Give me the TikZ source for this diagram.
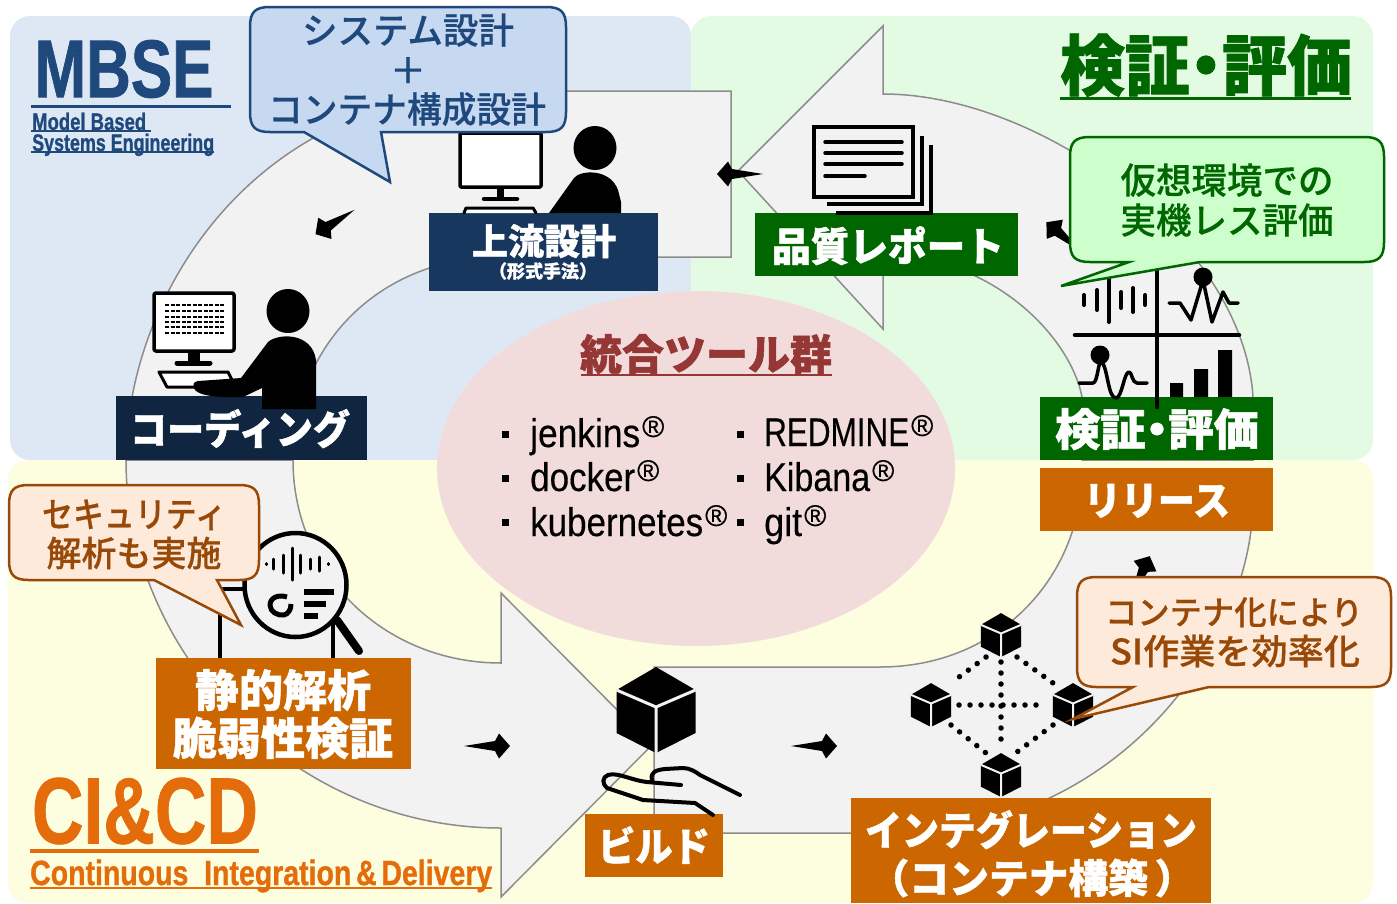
\documentclass[tikz,border=0pt]{standalone}
\usepackage{fontspec}
\usetikzlibrary{shapes.geometric}
\newfontfamily\jpn[BoldFont={Noto Sans CJK JP Black}, FakeBold=0.4, BoldFeatures={FakeBold=1.2}]{Noto Sans CJK JP Medium}
\newfontfamily\lat[FakeBold=0.3, BoldFeatures={FakeBold=1}]{Liberation Sans}
\definecolor{bgblue}{HTML}{DEE8F5}
\definecolor{bggreen}{HTML}{E3FBE3}
\definecolor{bgyellow}{HTML}{FDFDE0}
\definecolor{ringgray}{HTML}{F2F2F2}
\definecolor{ringline}{HTML}{8C8C8C}
\definecolor{toolpink}{HTML}{F2DCDB}
\definecolor{toolred}{HTML}{953735}
\definecolor{navy}{HTML}{17375E}
\definecolor{darknavy}{HTML}{10253F}
\definecolor{mbseblue}{HTML}{1F497D}
\definecolor{callblue}{HTML}{C6D9F1}
\definecolor{vgreen}{HTML}{006600}
\definecolor{callgreen}{HTML}{CCFFCC}
\definecolor{ciorange}{HTML}{CC6600}
\definecolor{titleorange}{HTML}{E46C0A}
\definecolor{callorange}{HTML}{FDEADA}
\definecolor{brownline}{HTML}{984807}
\newcommand{\tw}[2]{\resizebox{#1pt}{\height}{#2}}
\newcommand{\pt}[1]{\fontsize{#1}{#1}\selectfont}
\newcommand{\reg}{\hspace{2pt}\raisebox{10pt}{\pt{30}®}}
\newcommand{\callpath}[5]{({#1+20},#2) -- ({#3-20},#2) .. controls ({#3-5},#2) and (#3,{#2+5}) .. (#3,{#2+20}) -- (#3,{#4-20}) .. controls (#3,{#4-5}) and ({#3-5},#4) .. ({#3-20},#4) #5 -- ({#1+20},#4) .. controls ({#1+5},#4) and (#1,{#4-5}) .. (#1,{#4-20}) -- (#1,{#2+20}) .. controls (#1,{#2+5}) and ({#1+5},#2) .. ({#1+20},#2) -- cycle}
\tikzset{
    band/.style = {rounded corners=20pt},
    ring/.style = {fill=ringgray, draw=ringline, line width=1.5pt, line join=miter},
    tagbox/.style = {inner sep=0pt, outer sep=0pt},
    lbl/.style = {inner sep=0pt, execute at begin node={\rule[-.12em]{0pt}{1em}}, font=\jpn},
    taglbl/.style = {lbl, text=white, font=\jpn\bfseries},
    tool/.style = {inner sep=0pt, anchor=base west, font=\lat\pt{40}},
    icon/.style = {draw=black, line width=3.5pt, line join=round, line cap=round},
    dots/.style = {draw=black, line width=5.5pt, line cap=round, dash pattern=on 0pt off 11pt},
    cubegap/.style = {line width=3pt},
    dart/.pic = {\fill (-23,0) -- (8,-5) -- (12,-12.5) -- (23,0) -- (12,12.5) -- (8,5) -- cycle;},
    cube/.pic = {
        \fill (0,-43) -- (39.5,-20) -- (39.5,23) -- (0,43) -- (-39.5,23) -- (-39.5,-20) -- cycle;
        \draw[ringgray, cubegap] (-39.5,-20) -- (0,-3) -- (39.5,-20) (0,-3) -- (0,43);
    }
}
\begin{document}
\begin{tikzpicture}[x = 1pt, y = -1pt]
    \useasboundingbox (0,0) rectangle (1397,903);
    \fill[white] (0,0) rectangle (1397,903);
    \fill[bgblue, band] (10,16) rectangle (691,460);
    \fill[bggreen, band] (691,16) rectangle (1373,460);
    \fill[bgyellow, band] (8,460) rectangle (1373,903);
    \node[ellipse, fill=toolpink, minimum width=518pt, minimum height=355pt, inner sep=0pt] (tools) at (696,468.5) {};

    \draw[ring] (731,91) -- (500,91) .. controls (250,91) and (126,300) .. (126,460) -- (293,460) .. controls (293,345) and (380,257) .. (500,257) -- (731,257) -- cycle;
    \draw[ring] (883,26) -- (738,171) -- (883,329) -- (883,255) .. controls (990,255) and (1070,335) .. (1082,397) -- (1082,460) -- (1253,460) -- (1253,397) .. controls (1243,240) and (1040,94) .. (883,94) -- cycle;
    \draw[ring] (654,667) -- (880,667) .. controls (1000,667) and (1082,575) .. (1082,470) -- (1253,500) .. controls (1253,640) and (1120,833) .. (890,833) -- (654,833) -- cycle;
    \draw[ring] (126,460) .. controls (126,650) and (290,828) .. (501,828) -- (501,897) -- (652,745) -- (501,593) -- (501,663) .. controls (385,663) and (293,575) .. (293,460) -- cycle;

    \pic at (487,746) {dart};
    \pic at (814,746) {dart};
    \pic[rotate=65] at (1140,577) {dart};
    \pic[rotate=140] at (1064,237) {dart};
    \pic[rotate=180] at (740,174) {dart};
    \pic[rotate=212] at (335,222) {dart};

    \node[tagbox, fill=navy, minimum width=229pt, minimum height=78pt] (upper) at (543.5,252) {};
    \node[tagbox, fill=darknavy, minimum width=251pt, minimum height=64pt] (coding) at (241.5,428) {};
    \node[tagbox, fill=vgreen, minimum width=263pt, minimum height=63pt] (report) at (886.5,244.5) {};
    \node[tagbox, fill=vgreen, minimum width=233pt, minimum height=63pt] (verify) at (1156.5,428.5) {};
    \node[tagbox, fill=ciorange, minimum width=233pt, minimum height=63pt] (release) at (1156.5,499.5) {};
    \node[tagbox, fill=ciorange, minimum width=255pt, minimum height=111pt] (static) at (283.5,713.5) {};
    \node[tagbox, fill=ciorange, minimum width=138pt, minimum height=63pt] (build) at (654,845.5) {};
    \node[tagbox, fill=ciorange, minimum width=360pt, minimum height=105pt] (integ) at (1031,850.5) {};

    \draw[icon, fill=white, rounded corners=1pt] (460,133) rectangle (541,187);
    \fill (497,187) rectangle (504,198);
    \draw[icon, line width=4.5pt] (484,199) -- (517,199);
    \draw[icon, line width=3pt, fill=white] (464,213) -- (466,208) -- (533,208) -- (536,213);
    \fill (595,148) ellipse [x radius=21.5, y radius=22];
    \fill (549,213) -- (574,178) .. controls (580,170) and (610,168) .. (618,190) -- (621,202) -- (621,213) -- cycle;

    \draw[icon, fill=white, rounded corners=2pt] (154,293) rectangle (234,351);
    \foreach \rowy in {305,311,317,322,327,333}
        \draw[line width=2pt, dash pattern=on 4pt off 1.5pt] (165,\rowy) -- (224,\rowy);
    \fill (188,351) rectangle (200,362);
    \draw[icon, line width=5pt] (177,363) -- (210,363);
    \draw[icon, line width=3pt, fill=white] (159,372) -- (228,372) -- (233,382) -- (196,387) -- (167,387) -- cycle;
    \fill (288,311) ellipse [x radius=21.5, y radius=22];
    \fill (262,409) -- (262,388) -- (243,397) .. controls (220,398) and (200,396) .. (195,390) .. controls (192,385) and (193,382) .. (198,381) -- (241,378) -- (268,342) .. controls (278,333) and (312,332) .. (316,360) -- (316,409) -- cycle;

    \draw[icon] (825,142) -- (902,142) (825,153) -- (902,153) (825,164) -- (902,164) (825,176) -- (865,176);
    \draw[icon, line cap=butt, line join=miter] (814,127) rectangle (913,197);
    \draw[icon, line cap=butt, line join=miter] (827,204) -- (922,204) -- (922,136);
    \draw[icon, line cap=butt, line join=miter] (836,213) -- (931,213) -- (931,145);

    \draw[icon, line width=4.5pt] (1157,262) -- (1157,407) (1075,335) -- (1239,335);
    \foreach \barx/\barh in {1084/5,1097/10,1109/22,1121/8,1133/12,1145/5}
        \draw[icon, line width=4pt] (\barx,{300-\barh}) -- (\barx,{300+\barh});
    \fill (1203,277) circle [radius=9.5];
    \draw[icon, line width=3.5pt] (1169,303) -- (1180,303) -- (1191,320) -- (1203,280) -- (1212,322) -- (1223,292) -- (1229,303) -- (1238,303);
    \fill (1100,355) circle [radius=9.5];
    \draw[icon, line width=3.5pt] (1079,383) -- (1093,383) .. controls (1098,383) and (1098,358) .. (1102,362) .. controls (1108,370) and (1108,398) .. (1116,398) .. controls (1122,398) and (1124,372) .. (1129,372) .. controls (1132,372) and (1132,383) .. (1137,383) -- (1147,383);
    \fill (1170,383) rectangle (1183,397) (1194,369) rectangle (1208,397) (1218,350) rectangle (1232,397);

    \draw[icon, line cap=butt, line join=miter] (245,589) -- (220,589) -- (220,658) (333,620) -- (333,658);
    \draw[icon, line width=8pt] (337,620) -- (359,651);
    \draw[icon, line width=4.5pt, fill=ringgray] (295.5,585) ellipse [x radius=51, y radius=52];
    \foreach \barx/\barh in {266/0.5,273/5,283/9,292/16,300/9,310/5,319/7,328/0.5}
        \draw[icon, line width=3pt] (\barx,{564-\barh}) -- (\barx,{564+\barh});
    \draw[icon, line width=5pt, line cap=butt] (287,597) .. controls (278,594) and (270,598) .. (270,605) .. controls (270,612) and (278,616) .. (284,615) .. controls (288,614) and (291,610) .. (291,604);
    \draw[line width=6pt] (304,592) -- (334,592) (304,604) -- (326,604) (304,616) -- (318,616);

    \pic at (656,710) {cube};
    \draw[icon, line width=4pt] (681,785) -- (647,782) .. controls (630,780) and (618,772) .. (608,775) .. controls (602,777) and (602,784) .. (607,788) -- (643,800) -- (695,803) -- (713,815);
    \draw[icon, line width=4pt] (652,780) .. controls (650,772) and (656,770) .. (665,769) -- (683,768) .. controls (690,768) and (696,772) .. (700,775) -- (740,795);

    \draw[dots] (986,657) -- (951,683);
    \draw[dots] (1017,657) -- (1053,683);
    \draw[dots] (951,725) -- (986,753);
    \draw[dots] (1053,725) -- (1017,752);
    \draw[dots] (1001,662) -- (1001,747);
    \draw[dots] (959,705) -- (1046,705);
    \pic[scale=.51, cubegap/.style={line width=2pt}] at (1001,635) {cube};
    \pic[scale=.51, cubegap/.style={line width=2pt}] at (931,705) {cube};
    \pic[scale=.51, cubegap/.style={line width=2pt}] at (1073,705) {cube};
    \pic[scale=.51, cubegap/.style={line width=2pt}] at (1001,775) {cube};

    \draw[fill=callblue, draw=mbseblue, line width=2.5pt] \callpath{250}{7}{566}{132}{-- (381,132) -- (390,182) -- (304,132)};
    \draw[fill=callgreen, draw=vgreen, line width=2.5pt] \callpath{1070}{137}{1384}{262}{-- (1200,262) -- (1061,286) -- (1129,262)};
    \draw[fill=callorange, draw=brownline, line width=2.5pt] \callpath{9}{485}{259}{580}{-- (217,580) -- (241,625) -- (154,580)};
    \draw[fill=callorange, draw=brownline, line width=2.5pt] \callpath{1077}{577}{1391}{687}{-- (1209,687) -- (1073,719) -- (1133,687)};

    \node[inner sep=0pt, text=mbseblue, font=\lat\bfseries\pt{82}] (mbse) at (124,69) {\tw{179}{MBSE}};
    \draw[mbseblue, line width=3pt] (31,106) -- (231,106);
    \node[inner sep=0pt, anchor=base west, text=mbseblue, font=\lat\bfseries\pt{24}] (model) at (32,130) {\tw{114}{Model Based}};
    \draw[mbseblue, line width=1.2pt] (31,131) -- (151,131);
    \node[inner sep=0pt, anchor=base west, text=mbseblue, font=\lat\bfseries\pt{24}] (sys) at (32,151) {\tw{182}{Systems Engineering}};
    \draw[mbseblue, line width=1.2pt] (31,152) -- (214,152);

    \node[lbl, text=vgreen, font=\jpn\bfseries\pt{66}] (vtitle) at (1206,65) {\tw{292}{検証\hspace{-.25em}・\hspace{-.25em}評価}};
    \draw[vgreen, line width=3pt] (1060,98.5) -- (1351,98.5);

    \node[lbl, text=toolred, font=\jpn\bfseries\pt{42}] (ttitle) at (706,354) {\tw{252}{統合ツール群}};
    \draw[toolred, line width=2pt] (581,375) -- (832,375);

    \node[inner sep=0pt, text=titleorange, font=\lat\bfseries\pt{94}] (cicd) at (145,811) {\tw{226}{CI\&CD}};
    \draw[titleorange, line width=4pt] (30,851) -- (259,851);
    \node[inner sep=0pt, anchor=base west, text=titleorange, font=\lat\bfseries\pt{35}] (cont) at (30,885) {\tw{462}{Continuous\ \ Integration\,\&\,Delivery}};
    \draw[titleorange, line width=2pt] (30,888) -- (492,888);

    \foreach \toolx in {505,740}
        \foreach \tooly in {434,478,522}
            \fill (\toolx-3.5,\tooly-3.5) rectangle (\toolx+3.5,\tooly+3.5);
    \node[tool] (jenkins) at (530,447) {\tw{110}{jenkins}\reg};
    \node[tool] (docker) at (530,491) {\tw{105}{docker}\reg};
    \node[tool] (kube) at (530,536) {\tw{173}{kubernetes}\reg};
    \node[tool] (redmine) at (764,446) {\tw{145}{REDMINE}\reg};
    \node[tool] (kibana) at (764,491) {\tw{106}{Kibana}\reg};
    \node[tool] (git) at (764,536) {\tw{38}{git}\reg};

    \node[lbl, text=mbseblue, font=\jpn\pt{36}] (blue1) at (408,30) {\tw{212}{システム設計}};
    \node[lbl, text=mbseblue, font=\jpn\pt{36}] (blue2) at (408,70) {＋};
    \node[lbl, text=mbseblue, font=\jpn\pt{36}] (blue3) at (407,109) {\tw{278}{コンテナ構成設計}};
    \node[lbl, text=vgreen, font=\jpn\pt{36}] (green1) at (1227,180) {\tw{213}{仮想環境での}};
    \node[lbl, text=vgreen, font=\jpn\pt{36}] (green2) at (1227,220) {\tw{213}{実機レス評価}};
    \node[lbl, text=brownline, font=\jpn\pt{35}] (sec1) at (134,514) {\tw{184}{セキュリティ}};
    \node[lbl, text=brownline, font=\jpn\pt{35}] (sec2) at (134,553) {解析も実施};
    \node[lbl, text=brownline, font=\jpn\pt{33}] (con1) at (1234,612) {\tw{258}{コンテナ化により}};
    \node[lbl, text=brownline, font=\jpn\pt{35}] (con2) at (1235,651) {\tw{250}{SI作業を効率化}};

    \node[taglbl, font=\jpn\bfseries\pt{36}] (upper1) at (544,241) {上流設計};
    \node[taglbl, font=\jpn\bfseries\pt{18}] (upper2) at (543,271) {（形式手法）};
    \node[taglbl, font=\jpn\bfseries\pt{40}] (coding1) at (240,429) {\tw{220}{コーディング}};
    \node[taglbl, font=\jpn\bfseries\pt{40}] (report1) at (888,246) {\tw{232}{品質レポート}};
    \node[taglbl, font=\jpn\bfseries\pt{44}] (verify1) at (1157,429) {\tw{204}{検証\hspace{-.25em}・\hspace{-.25em}評価}};
    \node[taglbl, font=\jpn\bfseries\pt{40}] (release1) at (1157,500) {\tw{146}{リリース}};
    \node[taglbl, font=\jpn\bfseries\pt{44}] (static1) at (283,690) {静的解析};
    \node[taglbl, font=\jpn\bfseries\pt{44}] (static2) at (283,738) {脆弱性検証};
    \node[taglbl, font=\jpn\bfseries\pt{40}] (build1) at (654,846) {\tw{112}{ビルド}};
    \node[taglbl, font=\jpn\bfseries\pt{40}] (integ1) at (1031,830) {\tw{332}{インテグレーション}};
    \node[taglbl, font=\jpn\bfseries\pt{40}] (integ2) at (1032,878) {\tw{325}{（コンテナ構築\,）}};
\end{tikzpicture}
\end{document}
